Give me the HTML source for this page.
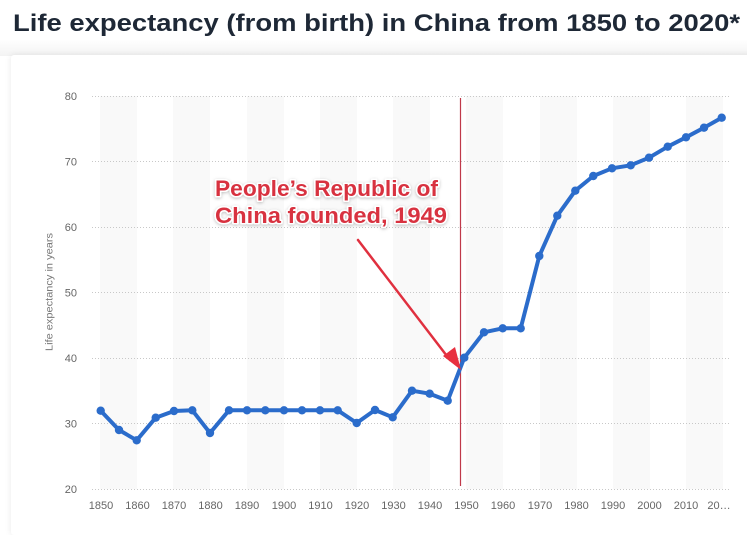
<!DOCTYPE html>
<html>
<head>
<meta charset="utf-8">
<style>
  html, body { margin:0; padding:0; background:#ffffff; }
  body { width:747px; height:523px; overflow:hidden; position:relative; font-family:"Liberation Sans", sans-serif; }
  .hdr { position:absolute; left:0; top:0; width:747px; height:56px; background:linear-gradient(#ffffff 0%, #ffffff 70%, #f3f3f3 100%); }
  .card { position:absolute; left:11px; top:55px; width:760px; height:480px; background:#fff; box-shadow:0 0 7px rgba(0,0,0,0.09); border-radius:3px; }
  svg { position:absolute; left:0; top:0; }
</style>
</head>
<body>
<div class="hdr"></div>
<div class="card"></div>
<svg width="747" height="523" viewBox="0 0 747 523" xmlns="http://www.w3.org/2000/svg">
  <defs>
    <filter id="sh" x="-10%" y="-30%" width="120%" height="160%">
      <feDropShadow dx="0" dy="1" stdDeviation="1.5" flood-color="#000" flood-opacity="0.25"/>
    </filter>
  </defs>
  <text x="13" y="31" font-family="Liberation Sans, sans-serif" font-size="24.5" font-weight="bold" fill="#1e2836" textLength="727" lengthAdjust="spacingAndGlyphs">Life expectancy (from birth) in China from 1850 to 2020*</text>

  <!-- bands -->
  <g fill="#f9f9f9">
    <rect x="100" y="96" width="37" height="393"/>
    <rect x="173" y="96" width="37" height="393"/>
    <rect x="247" y="96" width="37" height="393"/>
    <rect x="320" y="96" width="37" height="393"/>
    <rect x="393" y="96" width="37" height="393"/>
    <rect x="466" y="96" width="37" height="393"/>
    <rect x="540" y="96" width="37" height="393"/>
    <rect x="613" y="96" width="37" height="393"/>
    <rect x="686" y="96" width="37" height="393"/>
  </g>

  <!-- gridlines -->
  <g stroke="#c8c8c8" stroke-width="1" stroke-dasharray="1,2">
    <line x1="92" y1="96.5" x2="730" y2="96.5"/>
    <line x1="92" y1="161.5" x2="730" y2="161.5"/>
    <line x1="92" y1="227.5" x2="730" y2="227.5"/>
    <line x1="92" y1="292.5" x2="730" y2="292.5"/>
    <line x1="92" y1="358.5" x2="730" y2="358.5"/>
    <line x1="92" y1="423.5" x2="730" y2="423.5"/>
    <line x1="92" y1="489.5" x2="730" y2="489.5"/>
  </g>

  <!-- y labels -->
  <g font-family="Liberation Sans, sans-serif" font-size="11" fill="#666" text-anchor="end">
    <text x="77" y="100">80</text>
    <text x="77" y="165.5">70</text>
    <text x="77" y="231">60</text>
    <text x="77" y="296.5">50</text>
    <text x="77" y="362">40</text>
    <text x="77" y="427.5">30</text>
    <text x="77" y="493">20</text>
  </g>
  <text transform="translate(52.5,292) rotate(-90)" font-family="Liberation Sans, sans-serif" font-size="10.5" fill="#777" text-anchor="middle" textLength="118" lengthAdjust="spacingAndGlyphs">Life expectancy in years</text>

  <!-- x labels -->
  <g font-family="Liberation Sans, sans-serif" font-size="11" fill="#666" text-anchor="middle">
    <text x="101" y="509">1850</text>
    <text x="137.5" y="509">1860</text>
    <text x="174" y="509">1870</text>
    <text x="210.5" y="509">1880</text>
    <text x="247" y="509">1890</text>
    <text x="284" y="509">1900</text>
    <text x="320.5" y="509">1910</text>
    <text x="357" y="509">1920</text>
    <text x="393.5" y="509">1930</text>
    <text x="430" y="509">1940</text>
    <text x="466.5" y="509">1950</text>
    <text x="503" y="509">1960</text>
    <text x="540" y="509">1970</text>
    <text x="576.5" y="509">1980</text>
    <text x="613" y="509">1990</text>
    <text x="649.5" y="509">2000</text>
    <text x="686" y="509">2010</text>
    <text x="719" y="509">20…</text>
  </g>

  <!-- red vertical line -->
  <line x1="460.5" y1="98" x2="460.5" y2="486" stroke="#c0394a" stroke-width="1.2"/>

  <!-- series -->
  <polyline fill="none" stroke="#2b6ccb" stroke-width="4" stroke-linejoin="round" stroke-linecap="round"
    points="100.7,410.7 119,430 136.7,440.3 155.7,417.7 174,411 192.3,410.3 210,433 229,410.3 247,410.3 265.3,410.3 284,410.3 302,410.3 320,410.3 337.7,410.3 356.7,423 375,410 392.7,417.3 412,390.7 429.7,393.7 447.7,400.7 464.3,357.7 484,332.3 502.7,328.3 520.7,328.3 539.3,256 557.3,215.7 575.3,190.7 593.3,176 612,168.3 630.7,165.3 649,157.7 667.7,146.7 686,137.3 704,127.7 721.7,117.7"/>
  <g fill="#2b6ccb">
    <circle cx="100.7" cy="410.7" r="4.2"/><circle cx="119" cy="430" r="4.2"/><circle cx="136.7" cy="440.3" r="4.2"/>
    <circle cx="155.7" cy="417.7" r="4.2"/><circle cx="174" cy="411" r="4.2"/><circle cx="192.3" cy="410.3" r="4.2"/>
    <circle cx="210" cy="433" r="4.2"/><circle cx="229" cy="410.3" r="4.2"/><circle cx="247" cy="410.3" r="4.2"/>
    <circle cx="265.3" cy="410.3" r="4.2"/><circle cx="284" cy="410.3" r="4.2"/><circle cx="302" cy="410.3" r="4.2"/>
    <circle cx="320" cy="410.3" r="4.2"/><circle cx="337.7" cy="410.3" r="4.2"/><circle cx="356.7" cy="423" r="4.2"/>
    <circle cx="375" cy="410" r="4.2"/><circle cx="392.7" cy="417.3" r="4.2"/><circle cx="412" cy="390.7" r="4.2"/>
    <circle cx="429.7" cy="393.7" r="4.2"/><circle cx="447.7" cy="400.7" r="4.2"/><circle cx="464.3" cy="357.7" r="4.2"/>
    <circle cx="484" cy="332.3" r="4.2"/><circle cx="502.7" cy="328.3" r="4.2"/><circle cx="520.7" cy="328.3" r="4.2"/>
    <circle cx="539.3" cy="256" r="4.2"/><circle cx="557.3" cy="215.7" r="4.2"/><circle cx="575.3" cy="190.7" r="4.2"/>
    <circle cx="593.3" cy="176" r="4.2"/><circle cx="612" cy="168.3" r="4.2"/><circle cx="630.7" cy="165.3" r="4.2"/>
    <circle cx="649" cy="157.7" r="4.2"/><circle cx="667.7" cy="146.7" r="4.2"/><circle cx="686" cy="137.3" r="4.2"/>
    <circle cx="704" cy="127.7" r="4.2"/><circle cx="721.7" cy="117.7" r="4.2"/>
  </g>

  <!-- arrow -->
  <line x1="358" y1="240" x2="450" y2="360" stroke="#e0303f" stroke-width="2.5" stroke-linecap="round"/>
  <polygon points="461,370 443,356 455,347" fill="#e8303f"/>

  <!-- annotation -->
  <g font-family="Liberation Sans, sans-serif" font-size="22" font-weight="bold" fill="#d8323f" stroke="#ffffff" stroke-width="3" paint-order="stroke" stroke-linejoin="round" filter="url(#sh)">
    <text x="215" y="196" textLength="223" lengthAdjust="spacingAndGlyphs">People’s Republic of</text>
    <text x="215" y="223" textLength="232" lengthAdjust="spacingAndGlyphs">China founded, 1949</text>
  </g>
</svg>
</body>
</html>
